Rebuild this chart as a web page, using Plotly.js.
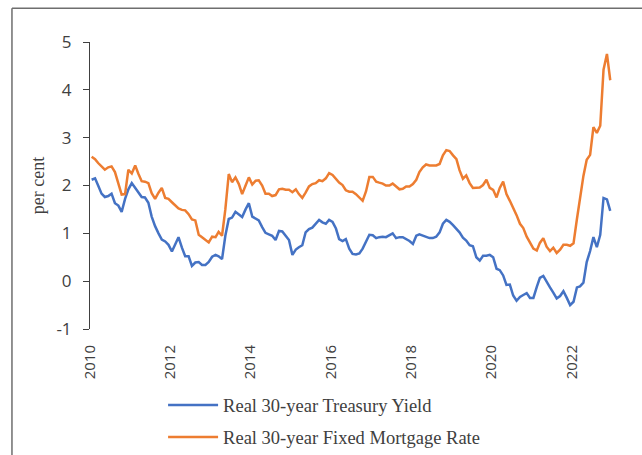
<!DOCTYPE html>
<html>
<head>
<meta charset="utf-8">
<script src="https://cdn.plot.ly/plotly-3.0.1.min.js"></script>
<style>
html,body{margin:0;padding:0;background:#fff;}
#chart{width:642px;height:455px;}
</style>
</head>
<body>
<div id="chart"></div>
<script>
// Monthly data, January 2010 to December 2022 (per cent)
const startYear = 2010;
const endYear = 2022;

const treasuryYield = [
  2.12, 2.15, 2.00, 1.83, 1.76, 1.78, 1.83, 1.63, 1.58, 1.45, 1.72, 1.92,
  2.05, 1.95, 1.84, 1.76, 1.75, 1.64, 1.35, 1.15, 1.00, 0.87, 0.83, 0.76,
  0.62, 0.78, 0.92, 0.70, 0.52, 0.52, 0.32, 0.39, 0.40, 0.34, 0.34, 0.40,
  0.51, 0.55, 0.52, 0.46, 0.95, 1.30, 1.33, 1.45, 1.40, 1.34, 1.50, 1.63,
  1.35, 1.31, 1.27, 1.13, 1.01, 0.98, 0.95, 0.86, 1.05, 1.04, 0.95, 0.86,
  0.55, 0.66, 0.71, 0.75, 1.02, 1.09, 1.12, 1.21, 1.28, 1.23, 1.20, 1.28,
  1.24, 1.10, 0.88, 0.84, 0.88, 0.68, 0.57, 0.56, 0.58, 0.68, 0.83, 0.97,
  0.96, 0.90, 0.92, 0.93, 0.92, 0.97, 1.00, 0.90, 0.92, 0.92, 0.88, 0.84,
  0.78, 0.95, 0.98, 0.95, 0.92, 0.90, 0.90, 0.93, 1.02, 1.20, 1.28, 1.24,
  1.17, 1.09, 1.02, 0.91, 0.85, 0.75, 0.73, 0.50, 0.43, 0.53, 0.53, 0.55,
  0.50, 0.26, 0.23, 0.12, -0.08, -0.07, -0.30, -0.41, -0.33, -0.29, -0.25, -0.35,
  -0.35, -0.12, 0.07, 0.11, -0.02, -0.13, -0.24, -0.36, -0.31, -0.21, -0.35, -0.50,
  -0.43, -0.13, -0.11, -0.03, 0.40, 0.63, 0.92, 0.71, 0.97, 1.74, 1.71, 1.47
];

const mortgageRate = [
  2.60, 2.55, 2.47, 2.40, 2.33, 2.38, 2.40, 2.28, 2.05, 1.81, 1.82, 2.33,
  2.25, 2.42, 2.25, 2.09, 2.08, 2.05, 1.84, 1.72, 1.85, 1.95, 1.74, 1.72,
  1.65, 1.58, 1.52, 1.49, 1.48, 1.40, 1.29, 1.27, 0.97, 0.92, 0.87, 0.81,
  0.93, 0.92, 1.03, 0.95, 1.50, 2.24, 2.07, 2.17, 2.03, 1.82, 2.00, 2.17,
  2.02, 2.10, 2.11, 2.00, 1.83, 1.83, 1.78, 1.80, 1.92, 1.93, 1.91, 1.91,
  1.86, 1.92, 1.82, 1.74, 1.85, 1.98, 2.03, 2.05, 2.11, 2.09, 2.15, 2.26,
  2.22, 2.13, 2.06, 2.01, 1.90, 1.87, 1.87, 1.82, 1.75, 1.68, 1.88, 2.18,
  2.18, 2.08, 2.06, 2.04, 2.00, 2.00, 2.04, 1.98, 1.92, 1.93, 1.98, 1.98,
  2.03, 2.12, 2.28, 2.38, 2.44, 2.42, 2.42, 2.42, 2.45, 2.63, 2.74, 2.72,
  2.63, 2.55, 2.32, 2.14, 2.21, 2.05, 1.95, 1.95, 1.96, 2.01, 2.12, 1.95,
  1.91, 1.75, 1.95, 2.08, 1.82, 1.68, 1.54, 1.38, 1.20, 1.11, 0.93, 0.81,
  0.68, 0.64, 0.80, 0.90, 0.72, 0.63, 0.70, 0.59, 0.66, 0.76, 0.76, 0.74,
  0.79, 1.30, 1.75, 2.20, 2.54, 2.64, 3.22, 3.10, 3.25, 4.42, 4.75, 4.20
];

const seriesNames = ['Real 30-year Treasury Yield', 'Real 30-year Fixed Mortgage Rate'];
const seriesColors = ['#4472C4', '#ED7D31'];
const yTickValues = [-1, 0, 1, 2, 3, 4, 5];
const yTickLabels = ['-1', '0', '1', '2', '3', '4', '5'];

// month categories (placed mid-month)
const months = [];
for (let y = startYear; y <= endYear; y++) {
  for (let m = 1; m <= 12; m++) {
    months.push(y + '-' + String(m).padStart(2, '0') + '-16');
  }
}

const xRange = [startYear + '-01-01', (endYear + 1) + '-01-01'];
const axisColor = '#404040';
const textColor = '#404040';

const traces = [
  {
    x: months, y: treasuryYield, type: 'scatter', mode: 'lines',
    name: seriesNames[0], legendgroup: 'a',
    line: {color: seriesColors[0], width: 2.5}
  },
  {
    x: months, y: mortgageRate, type: 'scatter', mode: 'lines',
    name: seriesNames[1], legendgroup: 'b',
    line: {color: seriesColors[1], width: 2.5}
  }
];

const layout = {
  width: 642, height: 455,
  margin: {l: 90, r: 30, t: 42, b: 126, autoexpand: false},
  paper_bgcolor: '#ffffff', plot_bgcolor: '#ffffff',
  showlegend: true,
  xaxis: {
    type: 'date', range: xRange,
    tick0: startYear + '-01-01', dtick: 'M24', tickformat: '%Y',
    tickangle: -90,
    showgrid: false, zeroline: false, showline: false,
    ticks: 'outside', ticklen: 9, tickcolor: 'rgba(0,0,0,0)',
    tickfont: {family: 'Open Sans, sans-serif', size: 15, color: textColor},
    fixedrange: true
  },
  xaxis2: {
    type: 'date', range: xRange, overlaying: 'x', anchor: 'free', position: 1/6,
    tick0: startYear + '-01-01', dtick: 'M24',
    showgrid: false, zeroline: false, showline: true,
    linecolor: axisColor, linewidth: 1,
    ticks: 'outside', ticklen: 6, tickcolor: axisColor, tickwidth: 1,
    showticklabels: false
  },
  yaxis: {
    range: [-1, 5], tickvals: yTickValues, ticktext: yTickLabels,
    showgrid: false, zeroline: false, showline: true,
    linecolor: axisColor, linewidth: 1,
    ticks: 'outside', ticklen: 6, tickcolor: axisColor,
    ticklabelstandoff: 8,
    tickfont: {family: 'Open Sans, sans-serif', size: 17, color: textColor},
    title: {text: 'per cent', standoff: 7,
      font: {family: 'Liberation Serif, serif', size: 18, color: textColor}}
  },
  legend: {
    x: 0.14, xanchor: 'left', y: -0.2, yanchor: 'top',
    orientation: 'v', tracegroupgap: 5, itemwidth: 50,
    bgcolor: 'rgba(0,0,0,0)',
    font: {family: 'Liberation Serif, serif', size: 18.5, color: textColor}
  },
  shapes: [
    {type: 'line', xref: 'paper', yref: 'paper', x0: -0.1495, x1: -0.1495, y0: 1.118, y1: -0.45,
     line: {color: '#6e6e6e', width: 1.5}},
    {type: 'line', xref: 'paper', yref: 'paper', x0: -0.1495, x1: 1.07, y0: 1.118, y1: 1.118,
     line: {color: '#6e6e6e', width: 1.5}}
  ]
};

Plotly.newPlot('chart', traces, layout, {displayModeBar: false, staticPlot: true});
</script>
</body>
</html>
